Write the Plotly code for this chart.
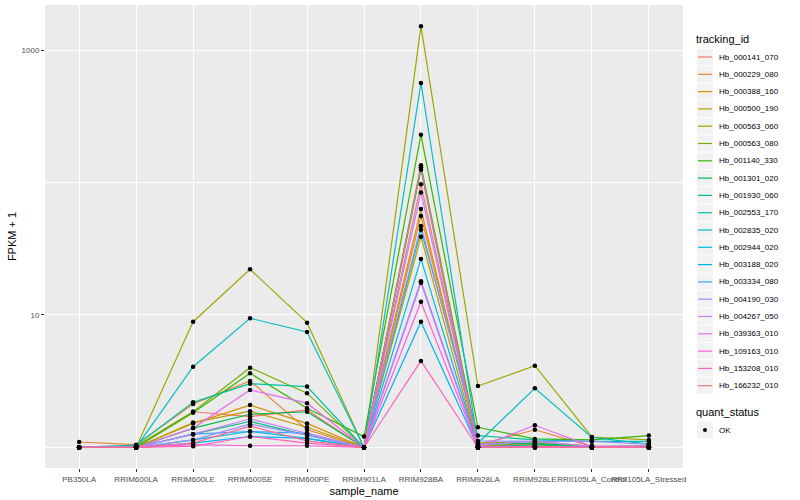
import plotly.graph_objects as go

# expression table (FPKM + 1)
sample_names = ["PB350LA", "RRIM600LA", "RRIM600LE", "RRIM600SE", "RRIM600PE",
                "RRIM901LA", "RRIM928BA", "RRIM928LA", "RRIM928LE",
                "RRII105LA_Control", "RRII105LA_Stressed"]

tracking_ids = ["Hb_000141_070", "Hb_000229_080", "Hb_000388_160", "Hb_000500_190",
                "Hb_000563_060", "Hb_000563_080", "Hb_001140_330", "Hb_001301_020",
                "Hb_001930_060", "Hb_002553_170", "Hb_002835_020", "Hb_002944_020",
                "Hb_003188_020", "Hb_003334_080", "Hb_004190_030", "Hb_004267_050",
                "Hb_039363_010", "Hb_109163_010", "Hb_153208_010", "Hb_166232_010"]

fpkm_plus1 = [
    [1.00, 1.02, 1.86, 1.71, 1.92, 1.00, 97.0, 1.02, 1.05, 1.00, 1.00],
    [1.10, 1.05, 2.13, 3.18, 1.36, 1.00, 56.0, 1.05, 1.36, 1.02, 1.00],
    [1.00, 1.00, 1.52, 2.09, 1.52, 1.00, 63.0, 1.02, 1.08, 1.00, 1.03],
    [1.00, 1.00, 1.54, 1.88, 1.42, 1.00, 39.0, 1.00, 1.05, 1.00, 1.00],
    [1.00, 1.00, 8.90, 22.1, 8.75, 1.00, 1510, 2.91, 4.14, 1.20, 1.14],
    [1.00, 1.02, 1.86, 4.00, 2.57, 1.00, 135., 1.08, 1.11, 1.02, 1.03],
    [1.00, 1.00, 1.83, 3.63, 1.98, 1.21, 229., 1.42, 1.16, 1.14, 1.23],
    [1.00, 1.00, 1.40, 1.78, 1.86, 1.00, 130., 1.05, 1.08, 1.00, 1.00],
    [1.00, 1.00, 1.26, 1.57, 1.24, 1.00, 125., 1.00, 1.05, 1.00, 1.00],
    [1.00, 1.04, 2.19, 3.03, 2.88, 1.00, 44.0, 1.23, 1.14, 1.11, 1.11],
    [1.00, 1.00, 4.07, 9.44, 7.45, 1.00, 564., 1.08, 2.80, 1.19, 1.06],
    [1.00, 1.00, 1.14, 1.32, 1.17, 1.00, 26.5, 1.00, 1.02, 1.00, 1.00],
    [1.00, 1.00, 1.08, 1.21, 1.17, 1.00, 8.90, 1.00, 1.00, 1.00, 1.00],
    [1.00, 1.00, 1.26, 1.32, 1.28, 1.00, 18.0, 1.02, 1.02, 1.00, 1.00],
    [1.00, 1.00, 1.14, 1.50, 1.24, 1.00, 47.0, 1.12, 1.11, 1.11, 1.06],
    [1.00, 1.00, 1.26, 1.64, 1.28, 1.00, 84.0, 1.05, 1.11, 1.02, 1.03],
    [1.00, 1.00, 1.40, 2.72, 2.16, 1.00, 17.5, 1.00, 1.47, 1.02, 1.00],
    [1.00, 1.00, 1.05, 1.03, 1.03, 1.00, 12.6, 1.00, 1.00, 1.00, 1.00],
    [1.00, 1.00, 1.02, 1.21, 1.08, 1.00, 4.50, 1.00, 1.00, 1.00, 1.00],
    [1.00, 1.00, 1.08, 1.45, 1.12, 1.00, 130., 1.00, 1.02, 1.00, 1.00],
]

status_label = "OK"

# ggplot2 default hue palette for 20 levels
palette = ["#F8766D", "#EA8331", "#D89000", "#C09B00", "#A3A500", "#7CAE00",
           "#39B600", "#00BB4E", "#00BF7D", "#00C1A3", "#00BFC4", "#00BAE0",
           "#00B0F6", "#35A2FF", "#9590FF", "#C77CFF", "#E76BF3", "#FA62DB",
           "#FF62BC", "#FF6C91"]

W, H = 800, 500
L, R, T, B = 45, 683, 5, 468   # panel edges in pixels


def px_x(x):
    return (x - L) / (R - L)


def px_y(y):
    return (B - y) / (B - T)


fig = go.Figure()

for name, vals, col in zip(tracking_ids, fpkm_plus1, palette):
    fig.add_trace(go.Scatter(
        x=sample_names, y=vals, mode="lines", name=name,
        line=dict(color=col, width=1.2), showlegend=False))

# points for every observation
pts_x, pts_y = [], []
for vals in fpkm_plus1:
    pts_x += sample_names
    pts_y += vals
fig.add_trace(go.Scatter(
    x=pts_x, y=pts_y, mode="markers", name=status_label,
    marker=dict(color="black", size=4.5, symbol="circle"), showlegend=False))

# ggplot-like legend drawn by hand
shapes, annots = [], []
annots.append(dict(text="tracking_id", x=px_x(694), y=px_y(39), xref="paper", yref="paper",
                   xanchor="left", yanchor="middle", showarrow=False,
                   font=dict(size=11, color="black")))
for i, (name, col) in enumerate(zip(tracking_ids, palette)):
    yc = 57 + i * 17.3
    shapes.append(dict(type="rect", xref="paper", yref="paper",
                       x0=px_x(697), x1=px_x(713), y0=px_y(yc - 8.2), y1=px_y(yc + 8.2),
                       fillcolor="#F2F2F2", line=dict(width=0), layer="below"))
    shapes.append(dict(type="line", xref="paper", yref="paper",
                       x0=px_x(698), x1=px_x(712), y0=px_y(yc), y1=px_y(yc),
                       line=dict(color=col, width=1.2)))
    annots.append(dict(text=name, x=px_x(716.5), y=px_y(yc), xref="paper", yref="paper",
                       xanchor="left", yanchor="middle", showarrow=False,
                       font=dict(size=8, color="black")))

annots.append(dict(text="quant_status", x=px_x(694), y=px_y(412), xref="paper", yref="paper",
                   xanchor="left", yanchor="middle", showarrow=False,
                   font=dict(size=11, color="black")))
shapes.append(dict(type="rect", xref="paper", yref="paper",
                   x0=px_x(697), x1=px_x(713), y0=px_y(430 - 8.2), y1=px_y(430 + 8.2),
                   fillcolor="#F2F2F2", line=dict(width=0), layer="below"))
shapes.append(dict(type="circle", xref="paper", yref="paper",
                   x0=px_x(703), x1=px_x(707), y0=px_y(428), y1=px_y(432),
                   fillcolor="black", line=dict(width=0)))
annots.append(dict(text=status_label, x=px_x(716.5), y=px_y(430), xref="paper", yref="paper",
                   xanchor="left", yanchor="middle", showarrow=False,
                   font=dict(size=8, color="black")))

axis_font = dict(family="Liberation Sans, Arial", size=8, color="#4D4D4D")

fig.update_layout(
    width=W, height=H,
    margin=dict(l=L, r=W - R, t=T, b=H - B),
    paper_bgcolor="white", plot_bgcolor="#EBEBEB",
    font=dict(family="Liberation Sans, Arial", color="black"),
    showlegend=False,
    xaxis=dict(
        type="category", categoryorder="array", categoryarray=sample_names,
        range=[-0.6, 10.6], showgrid=True, gridcolor="white", gridwidth=1.1,
        zeroline=False, ticks="outside", ticklen=3, tickcolor="#333333",
        tickfont=axis_font, tickangle=0, automargin=False,
        title=dict(text="sample_name", font=dict(size=11), standoff=4)),
    yaxis=dict(
        type="log", range=[-0.155, 3.34],
        tickvals=[10, 1000], ticktext=["10", "1000"],
        showgrid=True, gridcolor="white", gridwidth=1.1, zeroline=False,
        ticks="outside", ticklen=3, tickcolor="#333333", tickfont=axis_font,
        automargin=False,
        minor=dict(tickvals=[1, 100], showgrid=True, gridcolor="white",
                   gridwidth=0.5, ticks=""),
        title=dict(text="FPKM + 1", font=dict(size=11), standoff=2)),
    shapes=shapes,
    annotations=annots,
)

# the page body has a default 8px margin; drop it so the figure sits at 0,0
fig.write_html("out.html", config={"displayModeBar": False},
               post_script="document.body.style.margin = '0px';")
